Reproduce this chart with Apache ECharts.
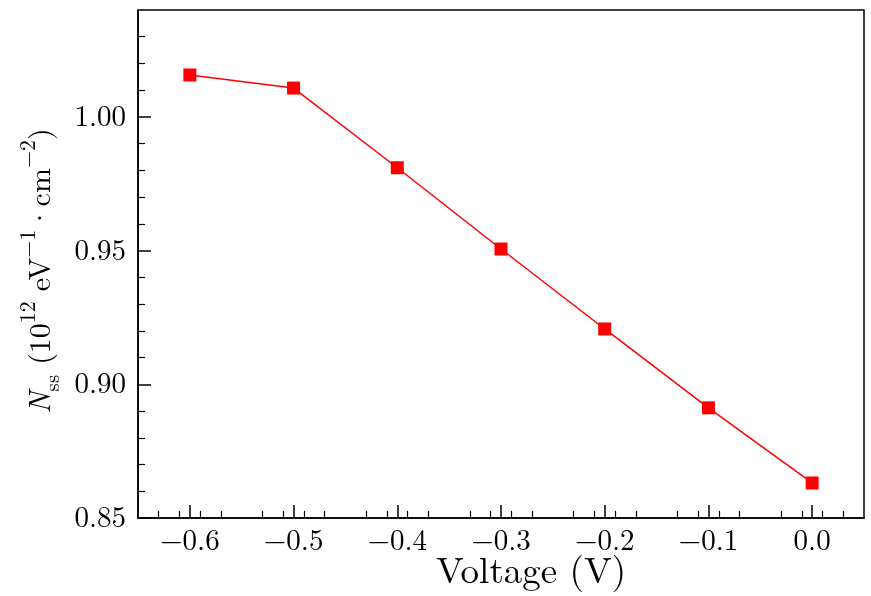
<!DOCTYPE html>
<html><head><meta charset="utf-8">
<script src="https://cdn.jsdelivr.net/npm/echarts@6/dist/echarts.min.js"></script>
<style>html,body{margin:0;padding:0;background:#fff}#c{width:871px;height:596px}</style>
</head><body><div id="c"></div>
<script>
const voltage = [-0.6, -0.5, -0.4, -0.3, -0.2, -0.1, 0.0];
const nss = [1.0157, 1.0108, 0.981, 0.9506, 0.9207, 0.8912, 0.8631];
const xTicks = [-0.6, -0.5, -0.4, -0.3, -0.2, -0.1, 0.0];
const yTicks = [0.85, 0.90, 0.95, 1.00];

const font = '"Latin Modern Roman","CMU Serif","DejaVu Serif",serif';
const chart = echarts.init(document.getElementById('c'), null, {renderer: 'canvas'});
const fmtX = v => {
  const r = Math.round(v * 10) / 10;
  if (!xTicks.some(t => Math.abs(t - r) < 1e-9) || Math.abs(v - r) > 1e-6) return '';
  return (r < 0 ? '\u2212' : '') + Math.abs(r).toFixed(1);
};
const fmtY = v => {
  const r = Math.round(v * 100) / 100;
  if (!yTicks.some(t => Math.abs(t - r) < 1e-9)) return '';
  return r.toFixed(2);
};
chart.setOption({
  backgroundColor: '#fff',
  animation: false,
  grid: {left: 138, right: 7, top: 10, bottom: 78, containLabel: false, outerBoundsMode: 'none',
    show: true, borderColor: '#000', borderWidth: 1.5, backgroundColor: 'transparent'},
  xAxis: {
    type: 'value', min: -0.65, max: 0.05, interval: 0.1,
    name: 'Voltage (V)', nameLocation: 'middle', nameGap: 35, nameMoveOverlap: false,
    nameTextStyle: {fontFamily: font, fontSize: 37, color: '#000', padding: [0, 0, 0, 60]},
    axisLine: {show: true, onZero: false, lineStyle: {color: '#000', width: 1.5}},
    axisTick: {show: true, inside: true, length: 13, lineStyle: {color: '#000', width: 1.5},
      customValues: xTicks},
    minorTick: {show: true, splitNumber: 5, length: 7, lineStyle: {color: '#000', width: 1.2}},
    axisLabel: {fontFamily: font, fontSize: 29, color: '#000', margin: 9, formatter: fmtX, customValues: xTicks},
    splitLine: {show: false}
  },
  yAxis: {
    type: 'value', min: 0.85, max: 1.04, interval: 0.05,
    name: '{i|N}{sub|ss} (10{sup|12} eV{sup|\u22121}\u00B7cm{sup|\u22122})',
    nameLocation: 'middle', nameGap: 82, nameRotate: 90, nameMoveOverlap: false,
    nameTextStyle: {
      fontFamily: font, fontSize: 30, color: '#000', padding: [0, 14, 0, 0],
      rich: {
        i: {fontFamily: font, fontSize: 30, fontStyle: 'italic', color: '#000'},
        sub: {fontFamily: font, fontSize: 21, color: '#000', verticalAlign: 'bottom', padding: [0, 0, -7, 0]},
        sup: {fontFamily: font, fontSize: 22, color: '#000', verticalAlign: 'top', padding: [-9, 0, 0, 0]}
      }
    },
    axisLine: {show: true, onZero: false, lineStyle: {color: '#000', width: 1.5}},
    axisTick: {show: true, inside: true, length: 13, lineStyle: {color: '#000', width: 1.5}, customValues: yTicks},
    minorTick: {show: true, splitNumber: 5, length: 7, lineStyle: {color: '#000', width: 1.2}},
    axisLabel: {fontFamily: font, fontSize: 29, color: '#000', margin: 12, formatter: fmtY, customValues: yTicks},
    splitLine: {show: false}
  },
  series: [{
    type: 'line',
    data: voltage.map((v, i) => [v, nss[i]]),
    symbol: 'rect', symbolSize: 13,
    lineStyle: {color: '#ff0000', width: 1.5},
    itemStyle: {color: '#ff0000'}
  }]
});
</script></body></html>
